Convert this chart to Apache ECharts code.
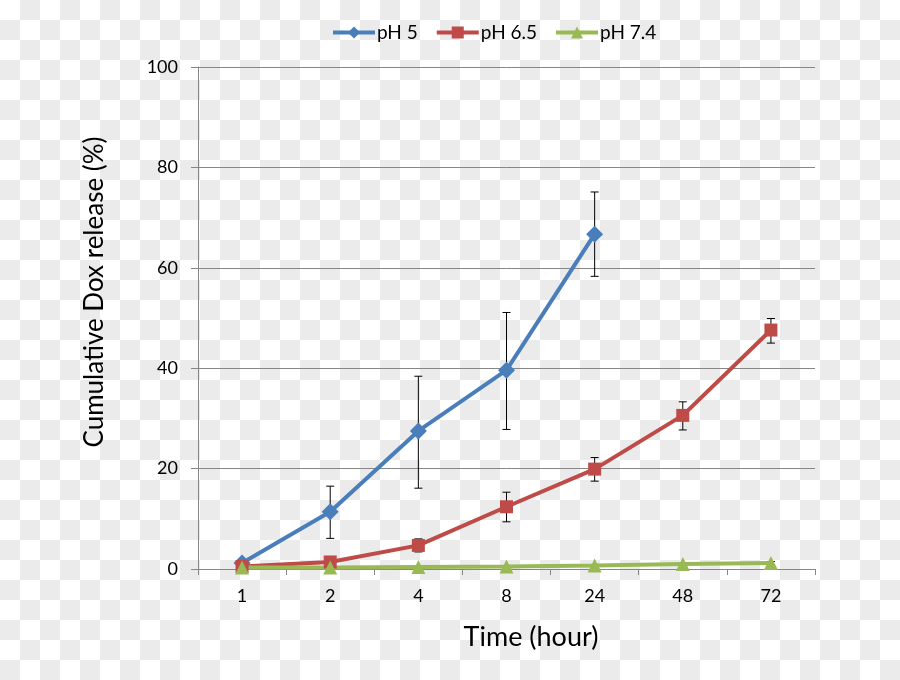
<!DOCTYPE html>
<html>
<head>
<meta charset="utf-8">
<script src="https://cdn.jsdelivr.net/npm/echarts@6/dist/echarts.min.js"></script>
<style>
html,body{margin:0;padding:0;}
#c{width:900px;height:680px;background:repeating-conic-gradient(#ebebeb 0 25%, #ffffff 0 50%) 0 0/40px 40px;}
</style>
</head>
<body>
<div id="c"></div>
<script>
const categories = ['1','2','4','8','24','48','72'];
const yTicks = [0,20,40,60,80,100];

const ph5 = [1.2, 11.4, 27.5, 39.6, 66.7, null, null];
const ph5Low = [1.0, 6.1, 16.1, 27.8, 58.3, null, null];
const ph5High = [1.4, 16.5, 38.4, 51.1, 75.1, null, null];

const ph65 = [0.5, 1.4, 4.7, 12.4, 19.9, 30.6, 47.6];
const ph65Low = [0.4, 1.2, 3.4, 9.4, 17.5, 27.7, 45.0];
const ph65High = [0.6, 1.6, 6.0, 15.3, 22.2, 33.3, 49.9];

const ph74 = [0.3, 0.3, 0.4, 0.5, 0.7, 1.0, 1.2];
const ph74Low = [0.3, 0.3, 0.4, 0.5, 0.7, 1.0, 0.9];
const ph74High = [0.3, 0.3, 0.4, 0.5, 0.7, 1.0, 1.5];

const FONT = 'Lato, "Open Sans", sans-serif';

function errData(low, high){
  const out = [];
  for (let i = 0; i < low.length; i++) {
    if (low[i] != null && high[i] != null) out.push([i, low[i], high[i]]);
  }
  return out;
}
function errSeries(name, low, high){
  return {
    type: 'custom',
    name: name + ' err',
    z: 1,
    silent: true,
    data: errData(low, high),
    renderItem: function(params, api){
      const x = api.value(0);
      const lo = api.coord([x, api.value(1)]);
      const hi = api.coord([x, api.value(2)]);
      const w = 4;
      const st = {stroke:'#000', lineWidth:1};
      return {type:'group', children:[
        {type:'line', shape:{x1:lo[0], y1:lo[1], x2:hi[0], y2:hi[1]}, style:st},
        {type:'line', shape:{x1:lo[0]-w, y1:lo[1], x2:lo[0]+w, y2:lo[1]}, style:st},
        {type:'line', shape:{x1:hi[0]-w, y1:hi[1], x2:hi[0]+w, y2:hi[1]}, style:st}
      ]};
    }
  };
}

const chart = echarts.init(document.getElementById('c'), null, {renderer:'canvas'});
chart.setOption({
  backgroundColor: 'transparent',
  animation: false,
  legend: {
    top: 18,
    left: 326,
    itemWidth: 42,
    itemHeight: 15,
    itemGap: 17,
    lineStyle: {width: 4},
    data: ['pH 5','pH 6.5','pH 7.4'],
    textStyle: {fontFamily: FONT, fontSize: 19, color: '#000', padding:[0,0,0,-3]}
  },
  grid: {left: 198, right: 85, top: 67, bottom: 111, containLabel: false},
  xAxis: {
    type: 'category',
    data: categories,
    boundaryGap: true,
    axisLine: {lineStyle: {color: '#868686', width: 1}},
    axisTick: {show: true, length: 6, lineStyle: {color: '#868686'}},
    axisLabel: {fontFamily: FONT, fontSize: 18, color: '#000', margin: 18}
  },
  yAxis: {
    type: 'value',
    min: 0, max: 100, interval: 20,
    axisLine: {show: true, lineStyle: {color: '#868686', width: 1}},
    axisTick: {show: true, length: 7, lineStyle: {color: '#868686'}},
    axisLabel: {fontFamily: FONT, fontSize: 18, color: '#000', margin: 20,
      formatter: v => yTicks.indexOf(v) >= 0 ? String(v) : ''},
    splitLine: {show: true, lineStyle: {color: '#868686', width: 1}}
  },
  graphic: [
    {type:'text', x: 95, y: 292, rotation: Math.PI/2, silent: true,
     style:{text:'Cumulative Dox release (%)', font:'26px ' + FONT, fill:'#000', align:'center', verticalAlign:'middle'}},
    {type:'text', x: 531, y: 637, silent: true,
     style:{text:'Time (hour)', font:'27px ' + FONT, fill:'#000', align:'center', verticalAlign:'middle'}}
  ],
  series: [
    errSeries('pH 5', ph5Low, ph5High),
    errSeries('pH 6.5', ph65Low, ph65High),
    errSeries('pH 7.4', ph74Low, ph74High),
    {name:'pH 5', type:'line', data: ph5, z: 3, symbol:'diamond', symbolSize: 17,
     itemStyle:{color:'#4a7ebb'}, lineStyle:{color:'#4a7ebb', width:4}},
    {name:'pH 6.5', type:'line', data: ph65, z: 3, symbol:'rect', symbolSize: 13,
     itemStyle:{color:'#be4b48'}, lineStyle:{color:'#be4b48', width:4}},
    {name:'pH 7.4', type:'line', data: ph74, z: 3, symbol:'triangle', symbolSize: 14,
     itemStyle:{color:'#98b954'}, lineStyle:{color:'#98b954', width:4}}
  ]
});
</script>
</body>
</html>
